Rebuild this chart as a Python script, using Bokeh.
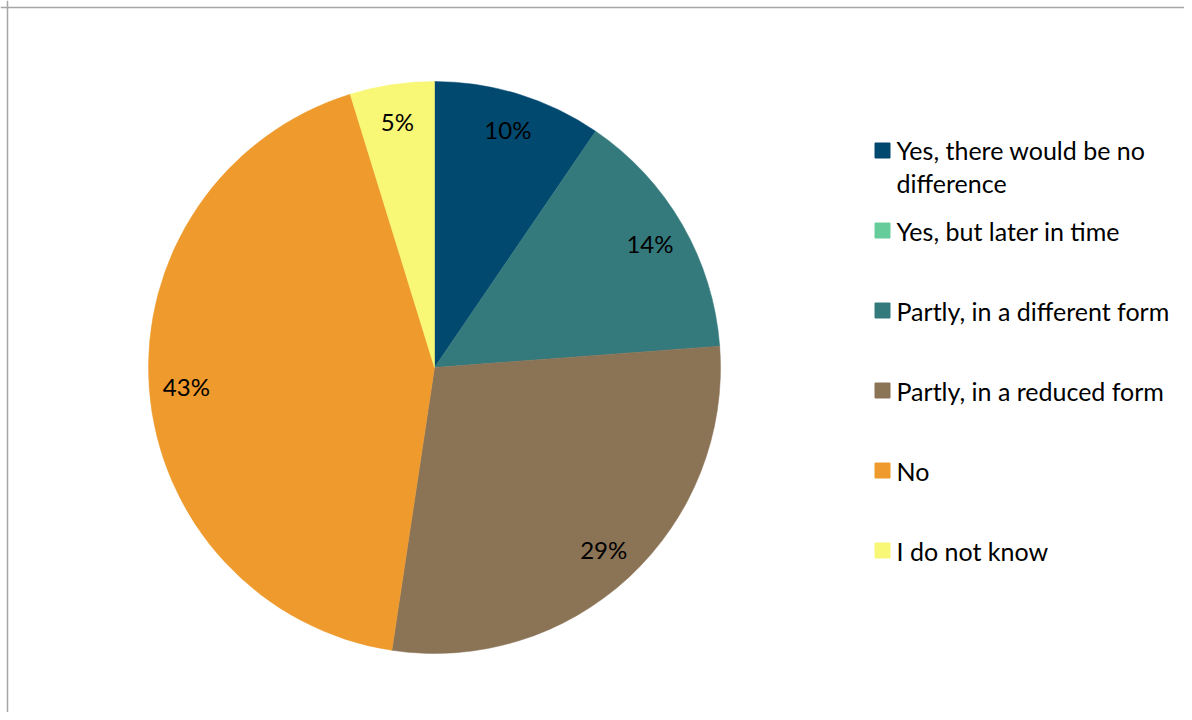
import numpy as np
from bokeh.plotting import figure
from bokeh.models import Range1d, ColumnDataSource, Span
from bokeh.core.properties import value
from bokeh.embed import file_html
from bokeh.resources import INLINE

# ---- data ----
categories = [
    "Yes, there would be no\ndifference",
    "Yes, but later in time",
    "Partly, in a different form",
    "Partly, in a reduced form",
    "No",
    "I do not know",
]
counts = [2, 0, 3, 6, 9, 1]
colors = ["#02496F", "#66CC99", "#347A7D", "#8B7356", "#EE9A2D", "#F8F776"]

FONT = "Lato"
W, H = 1184, 712
cx, cy, R = 434, H - 367, 286

total = float(sum(counts))
fr = np.array(counts) / total
cum_end = np.cumsum(fr)
cum_start = cum_end - fr
start = np.pi / 2 - 2 * np.pi * cum_start
end = np.pi / 2 - 2 * np.pi * cum_end
mid = (start + end) / 2

nz = fr > 0
pie_src = ColumnDataSource(dict(
    start=start[nz], end=end[nz], color=[c for c, k in zip(colors, nz) if k],
))
lr = 0.87 * R
lab_src = ColumnDataSource(dict(
    x=(cx + lr * np.cos(mid))[nz],
    y=(cy + lr * np.sin(mid))[nz],
    t=[f"{round(100 * f):d}%" for f in fr[nz]],
))

p = figure(width=W, height=H, output_backend="svg", toolbar_location=None,
           x_range=Range1d(0, W), y_range=Range1d(0, H), min_border=0)
p.axis.visible = False
p.grid.visible = False
p.outline_line_color = None
p.background_fill_color = "white"

# frame (left & top edges visible)
p.add_layout(Span(location=7, dimension="height", line_color="#A6A6A6", line_width=1.5))
p.add_layout(Span(location=H - 7, dimension="width", line_color="#A6A6A6", line_width=1.5))

p.wedge(x=cx, y=cy, radius=R, start_angle="start", end_angle="end",
        direction="clock", fill_color="color", line_color="color",
        line_width=0.5, source=pie_src)

p.text(x="x", y="y", text="t", source=lab_src, text_align="center",
       text_baseline="middle", text_font=value(FONT), text_font_size="24px",
       text_color="black")

# legend
lx_sq, lx_tx, ly0, lstep, line_h = 882, 896, H - 150, 80, 32
n = len(categories)
ly = ly0 - lstep * np.arange(n)
nlines = np.array([c.count("\n") + 1 for c in categories])
leg_src = ColumnDataSource(dict(
    xs=[lx_sq] * n, ys=ly, xt=[lx_tx] * n,
    yt=ly - (nlines - 1) * line_h / 2, t=categories, color=colors,
))
p.scatter(x="xs", y="ys", marker="square", size=15, fill_color="color",
          line_color="color", source=leg_src)
p.text(x="xt", y="yt", text="t", source=leg_src, text_align="left",
       text_baseline="middle", text_font=value(FONT), text_font_size="25px",
       text_line_height=1.08, text_color="black")

open("out.html", "w").write(file_html(p, INLINE))
